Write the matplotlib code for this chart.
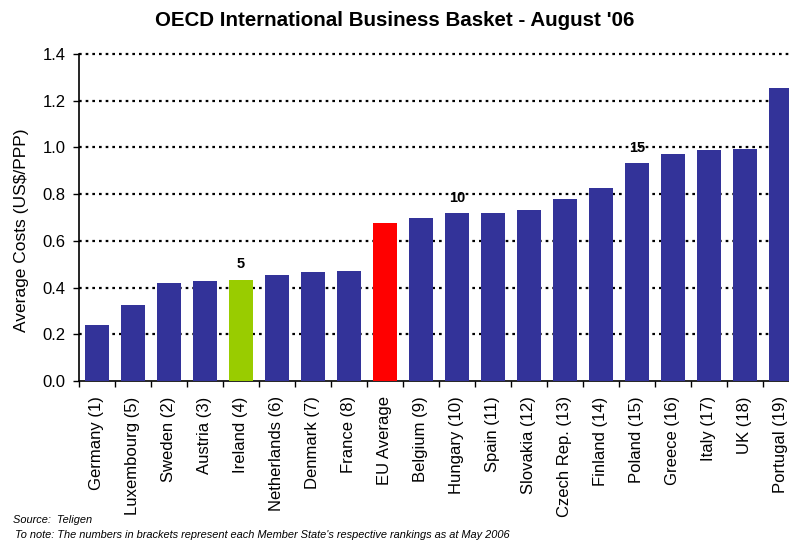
import matplotlib
matplotlib.use("Agg")
import matplotlib.pyplot as plt
import numpy as np

plt.rcParams['font.family'] = ['Liberation Sans', 'DejaVu Sans']

categories = ["Germany (1)", "Luxembourg (5)", "Sweden (2)", "Austria (3)", "Ireland (4)",
              "Netherlands (6)", "Denmark (7)", "France (8)", "EU Average", "Belgium (9)",
              "Hungary (10)", "Spain (11)", "Slovakia (12)", "Czech Rep. (13)", "Finland (14)",
              "Poland (15)", "Greece (16)", "Italy (17)", "UK (18)", "Portugal (19)"]
values = [0.240, 0.325, 0.420, 0.428, 0.434, 0.454, 0.467, 0.472, 0.676, 0.698,
          0.719, 0.719, 0.732, 0.779, 0.826, 0.933, 0.972, 0.989, 0.993, 1.254]
rank_marks = {"Ireland (4)": "5", "Hungary (10)": "10", "Poland (15)": "15"}
yticks = [0.0, 0.2, 0.4, 0.6, 0.8, 1.0, 1.2, 1.4]

BLUE = "#333399"
colors = [BLUE] * len(categories)
colors[categories.index("Ireland (4)")] = "#99CC00"
colors[categories.index("EU Average")] = "#FF0000"

fig = plt.figure(figsize=(7.89, 5.40), dpi=100)
ax = fig.add_axes([79 / 789, 159 / 540, 720 / 789, 327 / 540])

x = np.arange(len(categories))
ax.bar(x, values, width=0.64, color=colors, zorder=3)

ax.set_xlim(-0.5, len(categories) - 0.5)
ax.set_ylim(0, 1.4)
ax.set_yticks(yticks)
ax.set_yticklabels([f"{v:.1f}" for v in yticks], fontsize=12)
for y in yticks[1:]:
    ax.axhline(y, color="black", linestyle=(0, (1.2, 1.8)), linewidth=1.6,
               zorder=1, clip_on=False)

# category ticks sit on boundaries, labels at bar centres
ax.set_xticks(np.arange(len(categories) + 1) - 0.5)
ax.set_xticklabels([])
ax.set_xticks(x, minor=True)
ax.set_xticklabels(categories, minor=True, rotation=90, fontsize=12)
ax.tick_params(axis="x", which="minor", length=0, pad=11)
ax.tick_params(axis="x", which="major", length=4, width=1, direction="out")
ax.tick_params(axis="y", length=4.5, width=1, direction="out", pad=5)

for s in ["top", "right"]:
    ax.spines[s].set_visible(False)
for s in ["left", "bottom"]:
    ax.spines[s].set_linewidth(1.2)

ax.set_ylabel("Average Costs (US$/PPP)", fontsize=12.5)
ax.yaxis.set_label_coords(29 / 789, 1 - 230 / 540, transform=fig.transFigure)

for name, txt in rank_marks.items():
    i = categories.index(name)
    ax.annotate(txt, (i, values[i]), xytext=(0, 6), textcoords="offset points",
                ha="center", va="bottom", fontsize=10.5, fontweight="bold")

fig.text(0.5, 1 - 20 / 540, "OECD International Business Basket - August '06",
         ha="center", va="center", fontsize=14.8, fontweight="bold")

fig.text(13 / 789, 1 - 520 / 540, "Source:  Teligen", fontsize=7.9, style="italic",
         va="center")
fig.text(15 / 789, 1 - 535 / 540,
         "To note: The numbers in brackets represent each Member State's respective rankings as at May 2006",
         fontsize=7.9, style="italic", va="center")

fig.savefig("out.png", dpi=100)
